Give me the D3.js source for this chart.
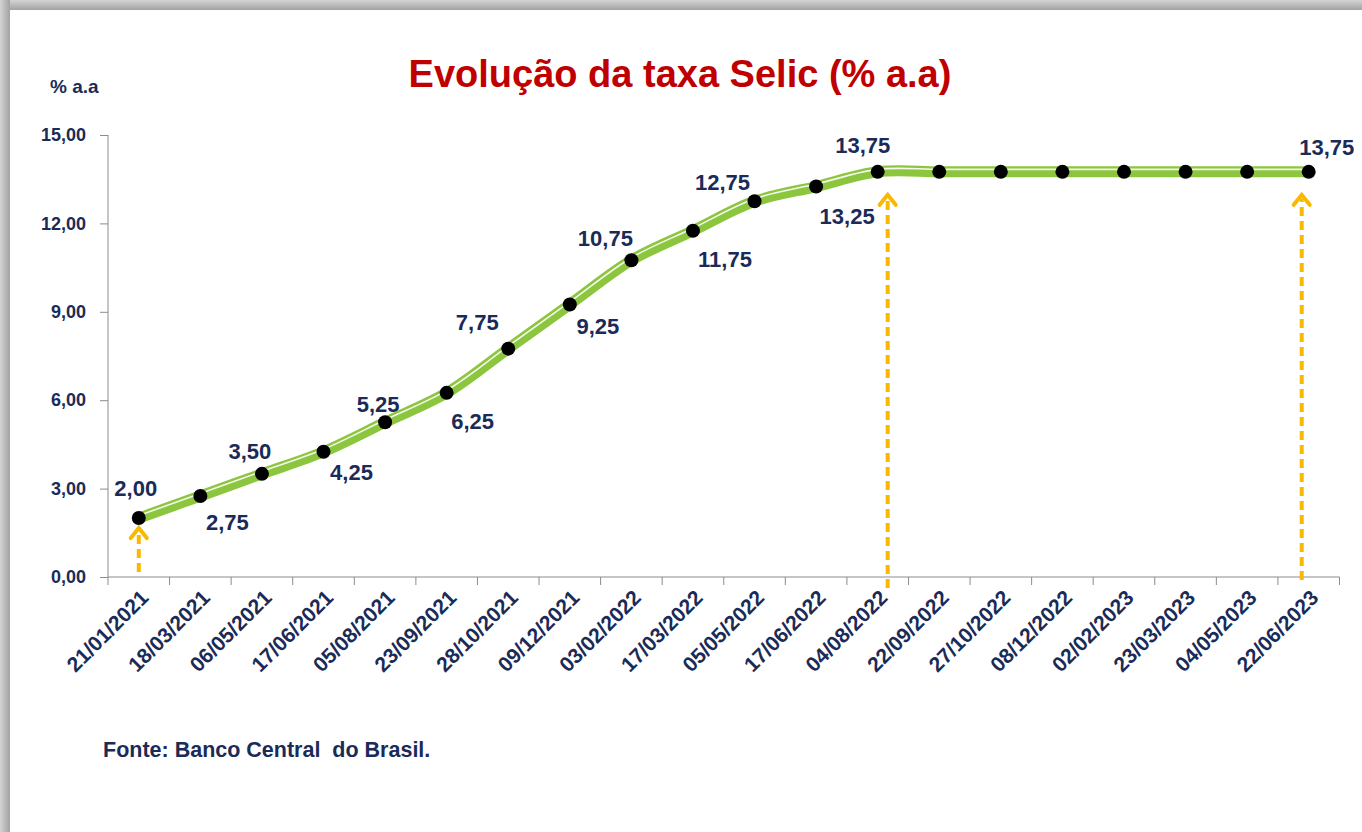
<!DOCTYPE html>
<html>
<head>
<meta charset="utf-8">
<script src="https://cdn.jsdelivr.net/npm/d3@7"></script>
<style>
  body { margin: 0; background: #fff; }
  svg text { font-family: "Liberation Sans", Arial, sans-serif; font-weight: bold; }
</style>
</head>
<body>
<svg id="chart" width="1362" height="832"></svg>
<script>
const dates = ["21/01/2021", "18/03/2021", "06/05/2021", "17/06/2021", "05/08/2021", "23/09/2021",
  "28/10/2021", "09/12/2021", "03/02/2022", "17/03/2022", "05/05/2022", "17/06/2022", "04/08/2022",
  "22/09/2022", "27/10/2022", "08/12/2022", "02/02/2023", "23/03/2023", "04/05/2023", "22/06/2023"];
const selic = [2.00, 2.75, 3.50, 4.25, 5.25, 6.25, 7.75, 9.25, 10.75, 11.75, 12.75, 13.25, 13.75,
  13.75, 13.75, 13.75, 13.75, 13.75, 13.75, 13.75];
const yTicks = [0, 3, 6, 9, 12, 15];
const labelledDates = ["21/01/2021", "18/03/2021", "06/05/2021", "17/06/2021", "05/08/2021", "23/09/2021",
  "28/10/2021", "09/12/2021", "03/02/2022", "17/03/2022", "05/05/2022", "17/06/2022", "04/08/2022", "22/06/2023"];
const arrowDates = ["21/01/2021", "04/08/2022", "22/06/2023"];

const navy = "#1b2b57";
const fmt = v => v.toFixed(2).replace(".", ",");
const data = dates.map((d, i) => ({ date: d, value: selic[i] }));

const svg = d3.select("#chart");

// frame shadow on top / left
const defs = svg.append("defs");
const gTop = defs.append("linearGradient").attr("id", "gtop").attr("x1", 0).attr("y1", 0).attr("x2", 0).attr("y2", 1);
gTop.append("stop").attr("offset", "0%").attr("stop-color", "#d4d4d4");
gTop.append("stop").attr("offset", "100%").attr("stop-color", "#a2a2a2");
const gLeft = defs.append("linearGradient").attr("id", "gleft").attr("x1", 0).attr("y1", 0).attr("x2", 1).attr("y2", 0);
gLeft.append("stop").attr("offset", "0%").attr("stop-color", "#d4d4d4");
gLeft.append("stop").attr("offset", "100%").attr("stop-color", "#a2a2a2");
svg.append("rect").attr("x", 0).attr("y", 0).attr("width", 1362).attr("height", 10).attr("fill", "url(#gtop)");
svg.append("rect").attr("x", 0).attr("y", 0).attr("width", 10).attr("height", 832).attr("fill", "url(#gleft)");
svg.append("rect").attr("x", 10).attr("y", 10).attr("width", 1352).attr("height", 822).attr("fill", "#fff");

const x = d3.scaleBand().domain(dates).range([108, 1339.5]).padding(0);
const y = d3.scaleLinear().domain([0, 15]).range([577, 135]);
const cx = d => x(d) + x.bandwidth() / 2;

// title and captions
svg.append("text").attr("x", 680).attr("y", 87).attr("text-anchor", "middle")
  .attr("fill", "#c00000").attr("font-size", 38).text("Evolução da taxa Selic (% a.a)");
svg.append("text").attr("x", 50).attr("y", 93).attr("fill", navy).attr("font-size", 19).text("% a.a");
svg.append("text").attr("x", 103).attr("y", 757).attr("fill", navy).attr("font-size", 21.5)
  .attr("xml:space", "preserve").text("Fonte: Banco Central  do Brasil.");

// y axis
const yAxis = svg.append("g").attr("transform", "translate(108,0)")
  .call(d3.axisLeft(y).tickValues(yTicks).tickSize(8).tickPadding(14).tickFormat(fmt));
yAxis.select(".domain").attr("stroke", "#8c8c8c").attr("d", "M0,135V577");
yAxis.selectAll(".tick line").attr("stroke", "#8c8c8c");
yAxis.selectAll(".tick text").attr("fill", navy).attr("font-size", 18)
  .attr("font-family", "Liberation Sans, Arial, sans-serif").attr("font-weight", "bold");

// x axis: ticks at band boundaries
const xAxis = svg.append("g").attr("transform", "translate(0,577)")
  .call(d3.axisBottom(x).tickSize(0).tickFormat(""));
xAxis.select(".domain").attr("stroke", "#8c8c8c").attr("d", "M108,0H1339.5");
xAxis.selectAll(".bound").data(dates.map(d => x(d)).concat([x.range()[1]])).join("line")
  .attr("x1", d => d).attr("x2", d => d).attr("y1", 0).attr("y2", 8).attr("stroke", "#8c8c8c");
svg.append("g").selectAll("text").data(dates).join("text")
  .attr("transform", d => `translate(${cx(d) + 11},${599}) rotate(-45)`)
  .attr("text-anchor", "end").attr("fill", navy)
  .attr("font-family", "'Liberation Sans Narrow', 'Arial Narrow', 'Liberation Sans', sans-serif")
  .attr("font-size", 21).text(d => d);

// arrows
const arrowGeom = {
  "21/01/2021": { dx: 0, bottom: -5, tip: 10 },
  "04/08/2022": { dx: 10, bottom: 11, tip: 23 },
  "22/06/2023": { dx: -7, bottom: 3, tip: 23 }
};
const arrowCol = "#f8b900";
const arrows = svg.append("g");
arrowDates.forEach(d => {
  const g = arrowGeom[d];
  const ax = cx(d) + g.dx;
  const tipY = y(selic[dates.indexOf(d)]) + g.tip;
  const botY = y(0) + g.bottom;
  arrows.append("line").attr("x1", ax).attr("x2", ax).attr("y1", botY).attr("y2", tipY + 4)
    .attr("stroke", arrowCol).attr("stroke-width", 4).attr("stroke-dasharray", "9,5");
  arrows.append("path").attr("d", `M${ax - 8},${tipY + 10}L${ax},${tipY}L${ax + 8},${tipY + 10}`)
    .attr("fill", "none").attr("stroke", arrowCol).attr("stroke-width", 4)
    .attr("stroke-linejoin", "miter").attr("stroke-linecap", "round");
});

// line
const line = d3.line().x(d => cx(d.date)).y(d => y(d.value)).curve(d3.curveCatmullRom.alpha(0.5));
svg.append("path").datum(data).attr("d", line).attr("fill", "none")
  .attr("stroke", "#8cc63f").attr("stroke-width", 11).attr("stroke-linejoin", "round");
svg.append("path").datum(data).attr("d", line).attr("fill", "none")
  .attr("transform", "translate(0,-2.5)")
  .attr("stroke", "#ffffff").attr("stroke-width", 1.6).attr("opacity", 0.9);

// points
svg.append("g").selectAll("circle").data(data).join("circle")
  .attr("cx", d => cx(d.date)).attr("cy", d => y(d.value)).attr("r", 7).attr("fill", "#000");

// value labels
const nudge = {
  "21/01/2021": [-3, -30], "18/03/2021": [27, 27], "06/05/2021": [-12, -22], "17/06/2021": [28, 21],
  "05/08/2021": [-7, -18], "23/09/2021": [26, 29], "28/10/2021": [-31, -26], "09/12/2021": [28, 22],
  "03/02/2022": [-26, -22], "17/03/2022": [32, 29], "05/05/2022": [-32, -19], "17/06/2022": [31, 30],
  "04/08/2022": [-15, -26], "22/06/2023": [18, -24]
};
svg.append("g").selectAll("text").data(data.filter(d => labelledDates.includes(d.date))).join("text")
  .attr("x", d => cx(d.date) + nudge[d.date][0])
  .attr("y", d => y(d.value) + nudge[d.date][1])
  .attr("text-anchor", "middle").attr("dominant-baseline", "central")
  .attr("fill", navy).attr("font-size", 22).text(d => fmt(d.value));
</script>
</body>
</html>
